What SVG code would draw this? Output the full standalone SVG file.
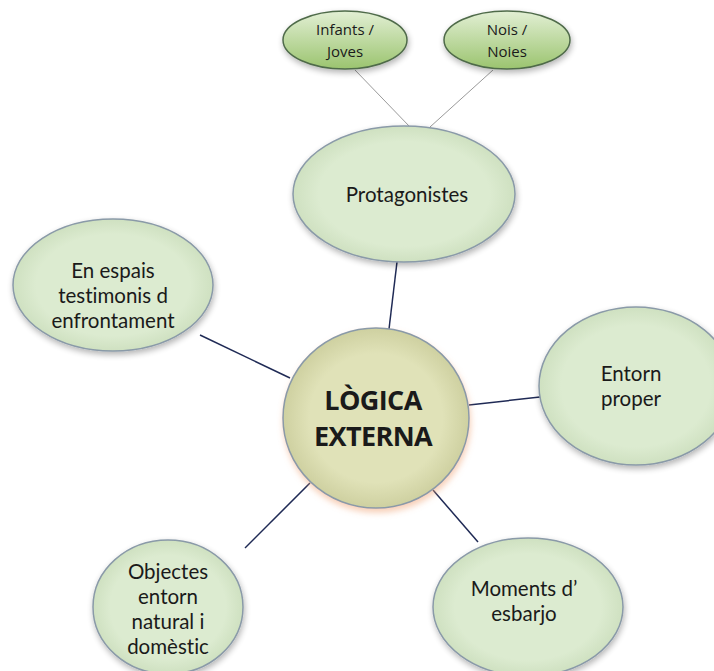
<svg xmlns="http://www.w3.org/2000/svg" width="714" height="671" viewBox="0 0 714 671">
<defs>
<radialGradient id="gMid" cx="0.5" cy="0.5" r="0.55">
<stop offset="0.7" stop-color="#dcebd0"/>
<stop offset="1" stop-color="#c9dcba"/>
</radialGradient>
<linearGradient id="gTop" x1="0" y1="0" x2="0" y2="1">
<stop offset="0" stop-color="#e2efd4"/>
<stop offset="1" stop-color="#9bc46f"/>
</linearGradient>
<radialGradient id="gCen" cx="0.5" cy="0.5" r="0.55">
<stop offset="0.65" stop-color="#e0e2b8"/>
<stop offset="1" stop-color="#c8ca98"/>
</radialGradient>
<filter id="sh" x="-20%" y="-20%" width="140%" height="140%">
<feGaussianBlur in="SourceAlpha" stdDeviation="3"/>
<feOffset dx="1" dy="3"/>
<feComponentTransfer><feFuncA type="linear" slope="0.3"/></feComponentTransfer>
<feMerge><feMergeNode/><feMergeNode in="SourceGraphic"/></feMerge>
</filter>
<filter id="shO" x="-20%" y="-20%" width="140%" height="140%">
<feGaussianBlur in="SourceAlpha" stdDeviation="4"/>
<feOffset dx="1" dy="4"/>
<feFlood flood-color="#f0a070" flood-opacity="0.5"/>
<feComposite operator="in" in2="SourceAlpha"/>
<feGaussianBlur stdDeviation="3"/>
<feOffset dx="1" dy="4"/>
<feMerge><feMergeNode/><feMergeNode in="SourceGraphic"/></feMerge>
</filter>
</defs>
<style>
.t{font-family:Lato,"Open Sans","Liberation Sans",sans-serif;font-variant-ligatures:none;fill:#1a1a1a;text-anchor:middle;font-size:20.5px}
.s{font-family:"Open Sans","Noto Sans","Liberation Sans",sans-serif;fill:#1a1a1a;text-anchor:middle;font-size:15px}
.b{font-family:"Open Sans","Noto Sans","Liberation Sans",sans-serif;fill:#1a1a1a;text-anchor:middle;font-size:27px;font-weight:bold;letter-spacing:-0.6px}
.mid{fill:url(#gMid);stroke:#8a9aa8;stroke-width:1.5}
.top{fill:url(#gTop);stroke:#4f6b4a;stroke-width:1.5}
.c1{stroke:#1f2a55;stroke-width:1.5;fill:none}
.c2{stroke:#9a9a9a;stroke-width:1;fill:none}
</style>
<g id="connectors">
<line class="c2" x1="355" y1="70" x2="410" y2="127"/>
<line class="c2" x1="493" y1="70" x2="430" y2="127"/>
<line class="c1" x1="397" y1="262" x2="389" y2="329"/>
<line class="c1" x1="200" y1="335" x2="290" y2="378"/>
<line class="c1" x1="469" y1="405" x2="540" y2="397"/>
<line class="c1" x1="310" y1="483" x2="245" y2="548"/>
<line class="c1" x1="433" y1="490" x2="478" y2="542"/>
</g>
<g id="infants">
<ellipse class="top" cx="345" cy="40" rx="62" ry="29" filter="url(#sh)"/>
<text class="s" x="345" y="35">Infants /</text>
<text class="s" x="345" y="57">Joves</text>
</g>
<g id="nois">
<ellipse class="top" cx="507" cy="40" rx="63" ry="29" filter="url(#sh)"/>
<text class="s" x="507" y="35">Nois /</text>
<text class="s" x="507" y="57">Noies</text>
</g>
<g id="protagonistes">
<ellipse class="mid" cx="404" cy="194" rx="111" ry="68" filter="url(#sh)"/>
<text class="t" x="407" y="202" font-size="21">Protagonistes</text>
</g>
<g id="espais">
<ellipse class="mid" cx="113" cy="285" rx="100" ry="66" filter="url(#sh)"/>
<text class="t" x="113" y="278">En espais</text>
<text class="t" x="113" y="303">testimonis d</text>
<text class="t" x="113" y="328">enfrontament</text>
</g>
<g id="central">
<ellipse cx="376" cy="418" rx="93" ry="90" fill="url(#gCen)" stroke="#8a9aa8" stroke-width="1.5" filter="url(#shO)"/>
<text class="b" x="373" y="410">LÒGICA</text>
<text class="b" x="373" y="446">EXTERNA</text>
</g>
<g id="entorn">
<ellipse class="mid" cx="636" cy="386" rx="97" ry="79" filter="url(#sh)"/>
<text class="t" x="631" y="381">Entorn</text>
<text class="t" x="631" y="406">proper</text>
</g>
<g id="objectes">
<ellipse class="mid" cx="168" cy="607" rx="75" ry="67" filter="url(#sh)"/>
<text class="t" x="168" y="579">Objectes</text>
<text class="t" x="168" y="604">entorn</text>
<text class="t" x="168" y="629">natural i</text>
<text class="t" x="168" y="654">domèstic</text>
</g>
<g id="moments">
<ellipse class="mid" cx="528" cy="607" rx="95" ry="69" filter="url(#sh)"/>
<text class="t" x="524" y="596">Moments d’</text>
<text class="t" x="524" y="621">esbarjo</text>
</g>
</svg>
